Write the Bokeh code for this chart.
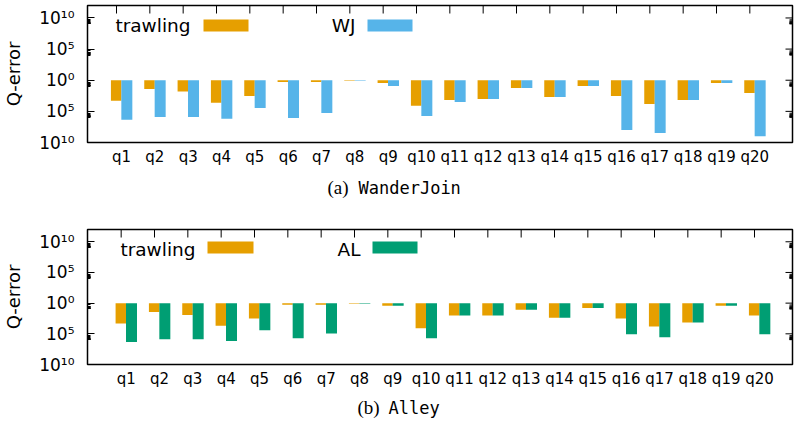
import math
from bokeh.plotting import figure
from bokeh.layouts import column
from bokeh.models import (FixedTicker, Label, BoxAnnotation,
                          ColumnDataSource, Range1d)
from bokeh.transform import dodge
from bokeh.embed import file_html
from bokeh.resources import INLINE

# ---- data (decades of under-estimation, i.e. Q-error = 10^v below 10^0) ----
queries = ["q1", "q2", "q3", "q4", "q5", "q6", "q7", "q8", "q9", "q10",
           "q11", "q12", "q13", "q14", "q15", "q16", "q17", "q18", "q19", "q20"]
positions = list(range(1, 21))

wj_trawling = [3.28, 1.40, 1.83, 3.60, 2.53, 0.27, 0.27, 0.10, 0.43, 4.09,
               3.17, 3.01, 1.24, 2.69, 0.91, 2.53, 3.82, 3.17, 0.43, 2.04]
wj_values = [6.34, 5.91, 5.91, 6.18, 4.46, 6.08, 5.27, 0.10, 0.91, 5.75,
             3.49, 3.01, 1.24, 2.69, 0.91, 8.01, 8.49, 3.17, 0.43, 8.98]

al_trawling = [3.31, 1.44, 1.92, 3.68, 2.51, 0.27, 0.27, 0.10, 0.43, 4.11,
               2.03, 2.03, 1.07, 2.40, 0.80, 2.51, 3.79, 3.15, 0.43, 2.03]
al_values = [6.35, 5.87, 5.87, 6.19, 4.43, 5.71, 4.96, 0.10, 0.43, 5.71,
             2.03, 2.03, 1.07, 2.40, 0.80, 5.07, 5.55, 3.15, 0.43, 5.07]

y_ticks = [-10, -5, 0, 5, 10]
y_tick_labels = ["10¹⁰", "10⁵", "10⁰", "10⁵", "10¹⁰"]

ORANGE = "#E69F00"
BLUE = "#56B4E9"
GREEN = "#009E73"
FONT = "DejaVu Sans"
Y0, Y1 = -10, 12
LEFT = 87  # frames of a column are aligned by Bokeh


def make_panel(trawl, other, other_name, other_color, x0, x1,
               height, b_top, b_bottom, lg):
    src = ColumnDataSource(dict(x=positions, t=[-v for v in trawl], o=[-v for v in other]))
    p = figure(width=794, height=height, output_backend="svg", toolbar_location=None,
               x_range=Range1d(x0, x1), y_range=Range1d(Y0, Y1),
               min_border_left=LEFT, min_border_right=2,
               min_border_top=b_top, min_border_bottom=b_bottom)
    p.background_fill_color = "white"
    p.border_fill_color = "white"
    p.outline_line_color = "black"
    p.outline_line_width = 1.5
    p.xgrid.visible = False
    p.ygrid.visible = False

    p.vbar(x=dodge("x", -0.16, range=p.x_range), top=0, bottom="t", width=0.315,
           source=src, fill_color=ORANGE, line_color=None)
    p.vbar(x=dodge("x", 0.16, range=p.x_range), top=0, bottom="o", width=0.33,
           source=src, fill_color=other_color, line_color=None)

    # bottom axis: query labels
    xa = p.xaxis[0]
    xa.ticker = FixedTicker(ticks=positions)
    xa.major_label_overrides = {i: q for i, q in zip(positions, queries)}
    xa.major_tick_in = 0
    xa.major_tick_out = 0
    xa.minor_tick_line_color = None
    xa.axis_line_color = None
    xa.major_label_text_font = FONT
    xa.major_label_text_font_size = "15px"
    xa.major_label_text_color = "black"
    xa.major_label_standoff = 5

    minors = [m - math.log10(k) for m in y_ticks for k in range(2, 10)]
    ya = p.yaxis[0]
    ya.ticker = FixedTicker(ticks=y_ticks, minor_ticks=minors)
    ya.major_label_overrides = {t: s for t, s in zip(y_ticks, y_tick_labels)}
    ya.major_tick_in = 7
    ya.major_tick_out = 0
    ya.minor_tick_in = 3
    ya.minor_tick_out = 0
    ya.major_tick_line_color = "black"
    ya.minor_tick_line_color = "black"
    ya.axis_line_color = None
    ya.major_label_text_font = FONT
    ya.major_label_text_font_size = "17px"
    ya.major_label_text_color = "black"
    ya.major_label_standoff = 13
    ya.axis_label = "Q-error"
    ya.axis_label_text_font = FONT
    ya.axis_label_text_font_style = "normal"
    ya.axis_label_text_font_size = "18px"
    ya.axis_label_text_color = "black"
    ya.axis_label_standoff = 12

    # mirror ticks (top and right), gnuplot style, pointing inwards
    p.ray(x=[i - 0.15 for i in positions], y=Y1, length=8, length_units="screen",
          angle=-math.pi / 2, line_color="black", line_width=1)
    p.ray(x=x1, y=y_ticks, length=7, length_units="screen",
          angle=math.pi, line_color="black", line_width=1)
    p.ray(x=x1, y=minors, length=3, length_units="screen",
          angle=math.pi, line_color="black", line_width=1)

    # legend (gnuplot style: text then sample)
    ty, sb, st = lg["y"], lg["sb"], lg["st"]
    for txt, tx, sx0, sx1, col in [("trawling", lg["t1"], lg["s1a"], lg["s1b"], ORANGE),
                                   (other_name, lg["t2"], lg["s2a"], lg["s2b"], other_color)]:
        p.add_layout(Label(x=tx, y=ty, x_units="screen", y_units="screen", text=txt,
                           text_align="right", text_baseline="middle",
                           text_font=FONT, text_font_size="18.5px", text_color="black"))
        p.add_layout(BoxAnnotation(left=sx0, right=sx1, bottom=sb, top=st,
                                   left_units="screen", right_units="screen",
                                   bottom_units="screen", top_units="screen",
                                   fill_color=col, fill_alpha=1.0, line_color=None,
                                   level="overlay"))
    return p


def make_caption(tag, name, height, x1, x2, yc):
    c = figure(width=794, height=height, output_backend="svg", toolbar_location=None,
               x_range=Range1d(0, 700), y_range=Range1d(0, height),
               min_border_left=LEFT, min_border_right=2,
               min_border_top=0, min_border_bottom=0)
    c.axis.visible = False
    c.grid.visible = False
    c.outline_line_color = None
    c.background_fill_color = "white"
    c.border_fill_color = "white"
    c.add_layout(Label(x=x1 - LEFT, y=yc, x_units="screen", y_units="screen", text=tag,
                       text_baseline="middle", text_font="Liberation Serif",
                       text_font_size="19px", text_color="black"))
    c.add_layout(Label(x=x2 - LEFT, y=yc, x_units="screen", y_units="screen", text=name,
                       text_baseline="middle", text_font="DejaVu Sans Mono",
                       text_font_size="17px", text_color="black"))
    return c


p1 = make_panel(wj_trawling, wj_values, "WJ", BLUE, -0.02, 21.13,
                170, 5, 28,
                dict(y=117, sb=111, st=123, t1=103, s1a=116, s1b=161,
                     t2=268, s2a=280, s2b=325))
c1 = make_caption("(a)", "WanderJoin", 45, 327, 358, 28)
p2 = make_panel(al_trawling, al_values, "AL", GREEN, -0.16, 20.99,
                175, 14, 24,
                dict(y=115, sb=111, st=123, t1=108, s1a=120, s1b=166,
                     t2=273, s2a=285, s2b=330))
c2 = make_caption("(b)", "Alley", 41, 357, 388, 24)

layout = column(p1, c1, p2, c2, spacing=0)
open("out.html", "w").write(file_html(layout, INLINE))
